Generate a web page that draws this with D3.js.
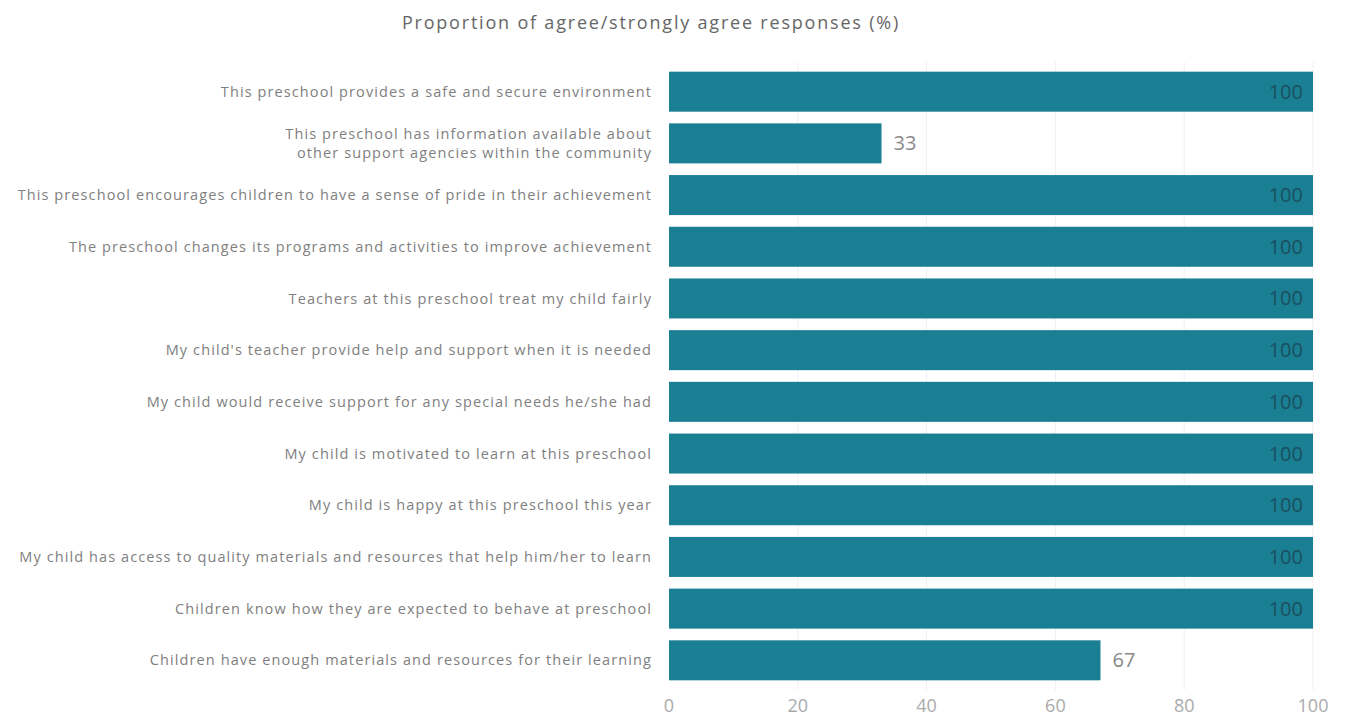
<!DOCTYPE html>
<html><head><meta charset="utf-8">
<script src="https://cdn.jsdelivr.net/npm/d3@7"></script>
<style>body{margin:0;background:#fff;} svg{display:block;font-family:"Open Sans",sans-serif;}</style>
</head><body>
<svg id="c" width="1351" height="725"></svg>
<script>
const title = "Proportion of agree/strongly agree responses (%)";
const categories = [
  "This preschool provides a safe and secure environment",
  "This preschool has information available about|other support agencies within the community",
  "This preschool encourages children to have a sense of pride in their achievement",
  "The preschool changes its programs and activities to improve achievement",
  "Teachers at this preschool treat my child fairly",
  "My child's teacher provide help and support when it is needed",
  "My child would receive support for any special needs he/she had",
  "My child is motivated to learn at this preschool",
  "My child is happy at this preschool this year",
  "My child has access to quality materials and resources that help him/her to learn",
  "Children know how they are expected to behave at preschool",
  "Children have enough materials and resources for their learning"
];
const values = [100, 33, 100, 100, 100, 100, 100, 100, 100, 100, 100, 67];
const ticks = [0, 20, 40, 60, 80, 100];

const svg = d3.select("#c");
const x = d3.scaleLinear().domain([0, 100]).range([669, 1313]);
const y = d3.scaleBand().domain(d3.range(categories.length)).range([60, 692]).paddingInner(0.226).paddingOuter(0.226);

svg.append("text").attr("x", 651).attr("y", 29).attr("text-anchor", "middle")
  .attr("font-size", 18).attr("letter-spacing", "1.8px").attr("fill", "#666").text(title);

// gridlines
svg.append("g").selectAll("line").data(ticks.slice(1)).join("line")
  .attr("x1", d => x(d)).attr("x2", d => x(d)).attr("y1", 62).attr("y2", 690)
  .attr("stroke", "#f0f0f0").attr("stroke-width", 1);

// bars
svg.append("g").selectAll("rect").data(values).join("rect")
  .attr("x", x(0)).attr("y", (d, i) => y(i))
  .attr("width", d => x(d) - x(0)).attr("height", y.bandwidth())
  .attr("fill", "#1b7f94");

// value labels
svg.append("g").selectAll("text").data(values).join("text")
  .attr("x", d => d >= 90 ? x(d) - 10 : x(d) + 12)
  .attr("y", (d, i) => y(i) + y.bandwidth() / 2)
  .attr("dy", "0.35em")
  .attr("text-anchor", d => d >= 90 ? "end" : "start")
  .attr("font-size", 20)
  .attr("fill", d => d >= 90 ? "#1a4f5f" : "#888")
  .text(d => d);

// category labels
const lab = svg.append("g").selectAll("text").data(categories).join("text")
  .attr("x", 652)
  .attr("y", (d, i) => y(i) + y.bandwidth() / 2)
  .attr("text-anchor", "end")
  .attr("font-size", 14.5).attr("fill", "#808080").attr("letter-spacing", "1.1px");
lab.each(function(d) {
  const parts = d.split("|");
  const t = d3.select(this);
  parts.forEach((p, k) => {
    t.append("tspan").attr("x", 652)
      .attr("dy", k === 0 ? (parts.length === 1 ? "0.35em" : "-0.3em") : "1.3em")
      .text(p);
  });
});

// x axis tick labels
svg.append("g").selectAll("text").data(ticks).join("text")
  .attr("x", d => x(d)).attr("y", 712).attr("text-anchor", "middle")
  .attr("font-size", 18).attr("fill", "#aaaaaa").text(d => d);
</script>
</body></html>
